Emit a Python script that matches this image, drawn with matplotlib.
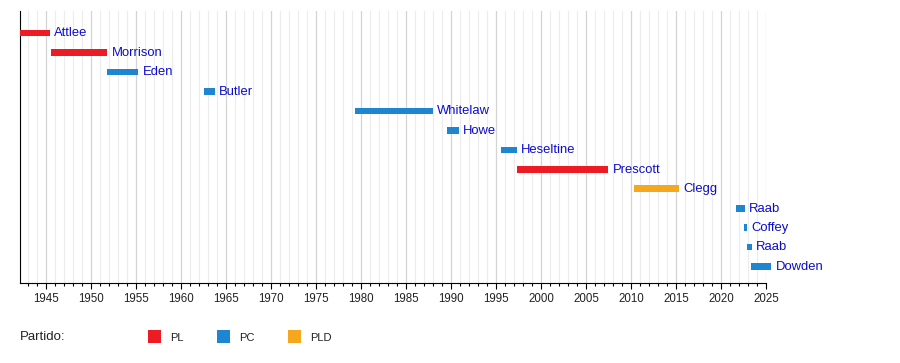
"""
Deputy Prime Ministers timeline, redrawn with matplotlib.
Saved to out.png (900x363).
"""

import matplotlib.pyplot as plt
from matplotlib.patches import Rectangle
from matplotlib.ticker import MultipleLocator

plt.rcParams["font.family"] = ["Liberation Sans", "DejaVu Sans"]

# --- data (decimal years) ---
names = ["Attlee", "Morrison", "Eden", "Butler", "Whitelaw", "Howe", "Heseltine",
         "Prescott", "Clegg", "Raab", "Coffey", "Raab", "Dowden"]
starts = [1942.13, 1945.57, 1951.82, 1962.53, 1979.34, 1989.56, 1995.55,
          1997.33, 2010.36, 2021.70, 2022.60, 2022.90, 2023.30]
ends = [1945.39, 1951.82, 1955.26, 1963.80, 1988.03, 1990.83, 1997.33,
        2007.49, 2015.35, 2022.65, 2022.90, 2023.40, 2025.60]
parties = ["PL", "PL", "PC", "PC", "PC", "PC", "PC",
           "PL", "PLD", "PC", "PC", "PC", "PC"]

party_names = ["PL", "PC", "PLD"]
party_colors = {"PL": "#ED1C24", "PC": "#1E86D0", "PLD": "#F5A81E"}

x_start, x_end = 1942.1, 2025.0
label_color = "#0c0ccc"
bar_h = 0.34

fig = plt.figure(figsize=(9, 3.63), dpi=100)
ax = fig.add_axes([20 / 900, 80 / 363, 746 / 900, 272.5 / 363])

n = len(names)
ax.set_xlim(x_start, x_end)
ax.set_ylim(n - 1 + 0.84, -1.156)

# grid: yearly light lines, 5-year darker lines
ax.xaxis.set_major_locator(MultipleLocator(5))
ax.xaxis.set_minor_locator(MultipleLocator(1))
ax.grid(True, which="minor", axis="x", color="#ececec", lw=0.8)
ax.grid(True, which="major", axis="x", color="#d4d4d4", lw=0.9)
ax.set_axisbelow(True)

for i, (nm, s, e, p) in enumerate(zip(names, starts, ends, parties)):
    ax.add_patch(Rectangle((s, i - bar_h / 2), e - s, bar_h, color=party_colors[p],
                           lw=0, clip_on=False, zorder=3))
    ax.annotate(nm, (e, i + bar_h / 2), xytext=(4, 0), textcoords="offset pixels",
                va="baseline", ha="left", fontsize=9.4, color=label_color,
                annotation_clip=False, zorder=4)

ax.set_yticks([])
for side in ("top", "right"):
    ax.spines[side].set_visible(False)
ax.spines["left"].set_color("black")
ax.spines["bottom"].set_color("black")
ax.tick_params(axis="x", which="major", length=4, width=0.8, labelsize=8.3,
               pad=3, colors="black", labelcolor="#222222")
ax.tick_params(axis="x", which="minor", length=2.5, width=0.8)
ax.set_xticks([t for t in range(1945, 2026, 5)])
ax.set_xticklabels([str(t) for t in range(1945, 2026, 5)])

# legend row
fig.text(20 / 900, 1 - 337 / 363, "Partido:", fontsize=9.5, va="center",
         ha="left", color="#222222")
legend_x = [148, 217, 288]
for px, p in zip(legend_x, party_names):
    fig.patches.append(Rectangle((px / 900, 1 - 343 / 363), 13 / 900, 13 / 363,
                                 transform=fig.transFigure, color=party_colors[p],
                                 lw=0))
    fig.text((px + 22) / 900, 1 - 338 / 363, p, fontsize=8, va="center",
             ha="left", color="#222222")

fig.savefig("out.png", dpi=100)
